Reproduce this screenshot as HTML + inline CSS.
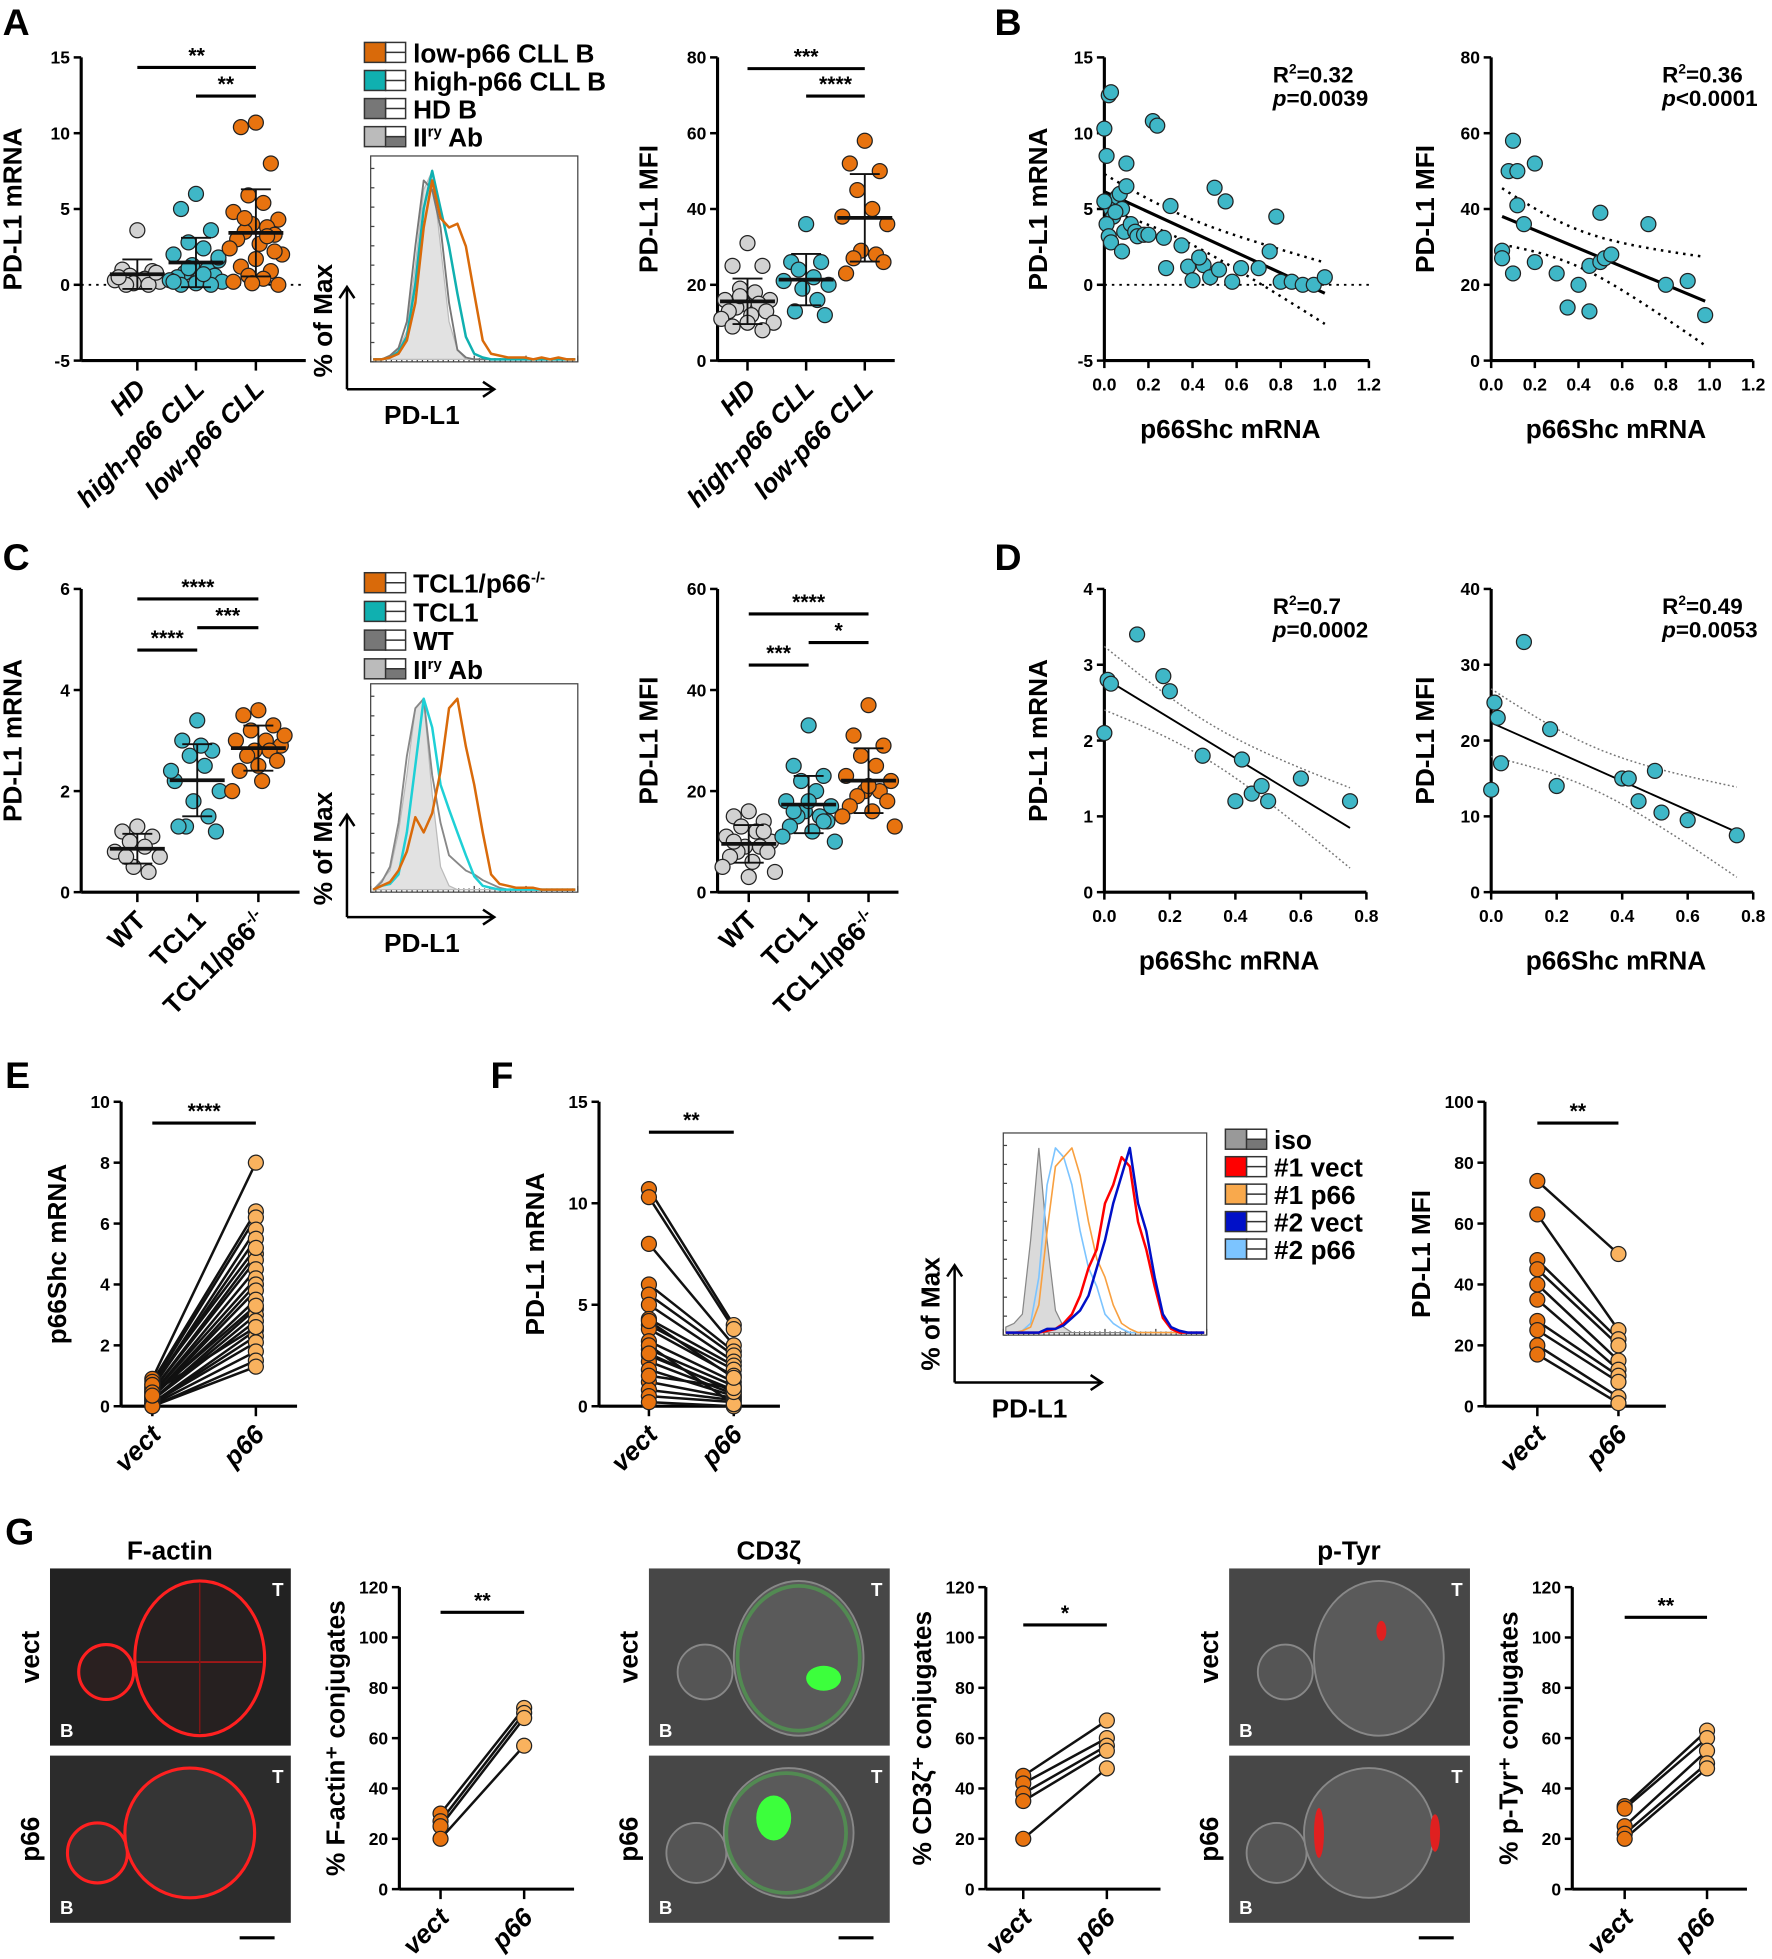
<!DOCTYPE html>
<html><head><meta charset="utf-8">
<style>
html,body{margin:0;padding:0;background:#fff;}
svg{display:block;font-family:"Liberation Sans Narrow","Liberation Sans",sans-serif;}
</style></head>
<body>
<svg id="fig" width="1772" height="1959" viewBox="0 0 1420 1570" xmlns="http://www.w3.org/2000/svg">
<g id="root"></g>
</svg>
<script>
// ---------------- DATA ----------------
const a1Cats=["HD","high-p66 CLL","low-p66 CLL"];
const a1HD=[3.6,1.0,0.9,0.6,0.4,0.3,0.2,0.1,0.0,0.0,0.8,0.5];
const a1High=[6.0,5.0,3.6,2.8,2.4,2.0,1.6,1.3,1.0,0.8,0.6,0.5,0.4,0.3,0.2,0.1,0.0,0.0,1.1,0.7,0.2,1.8];
const a1Low=[10.7,10.4,8.0,5.9,5.4,4.8,4.3,4.0,3.8,3.5,3.3,3.0,2.7,2.4,2.0,1.7,1.2,0.9,0.6,0.4,0.2,0.0,0.1,3.2,4.4,2.2];
const a1Ticks=[-5,0,5,10,15];
const a2HD=[31,25,25,19,18,16,16,15,15,14,13,13,12,11,10,10,9,8,17];
const a2High=[36,26,26,24,22,21,20,19,16,13,12];
const a2Low=[58,52,50,45,40,38,36,29,28,27,26,23];
const a2Ticks=[0,20,40,60,80];
const b1X=[0,0.01,0.02,0.03,0.03,0.04,0.05,0.06,0.07,0.08,0.09,0.1,0.1,0.12,0.14,0.15,0.18,0.2,0.22,0.24,0.27,0.3,0.35,0.38,0.4,0.45,0.48,0.5,0.52,0.55,0.58,0.62,0.7,0.75,0.78,0.8,0.85,0.9,0.95,1.0,0.01,0.02,0.05,0.03,0.0,0.08,0.28,0.43];
const b1Y=[10.3,8.5,12.5,12.7,5,4.5,5.2,5.8,6,5,3.5,6.5,8,4,3.5,3.2,3.3,3.3,10.8,10.5,3.1,5.2,2.6,1.2,0.3,1.3,0.5,6.4,1,5.5,0.2,1.1,1.1,2.2,4.5,0.2,0.2,0,0,0.5,4,3.2,4.8,2.8,5.5,2.2,1.1,1.8];
const b2X=[0.05,0.08,0.1,0.12,0.1,0.15,0.2,0.2,0.3,0.35,0.4,0.45,0.45,0.5,0.5,0.52,0.55,0.72,0.8,0.9,0.98,0.12,0.05];
const b2Y=[29,50,58,50,23,36,52,26,23,14,20,25,13,26,39,27,28,36,20,21,12,41,27];
const bXTicks=[0,0.2,0.4,0.6,0.8,1.0,1.2];
const c1Cats=["WT","TCL1","TCL1/p66"];
const c1WT=[1.3,1.2,1.1,1.0,0.9,0.8,0.7,0.5,0.4,0.7];
const c1TCL=[3.4,3.0,2.8,2.7,2.5,2.2,2.0,1.8,1.5,1.3,1.2,1.3,2.9,2.4];
const c1KO=[3.6,3.5,3.3,3.2,3.0,3.0,2.9,2.8,2.8,2.7,2.6,2.4,2.2,2.0,3.1,2.5];
const c1Ticks=[0,2,4,6];
const c2WT=[16,15,14,13,12,11,10,9,9,8,8,7,6,5,4,3,10,12];
const c2TCL=[33,25,23,22,20,18,17,16,15,15,14,13,12,11,10,18,16,14];
const c2KO=[37,31,29,27,25,23,22,20,20,19,18,17,16,15,13,21];
const c2Ticks=[0,20,40,60];
const d1X=[0.01,0.02,0.0,0.1,0.18,0.2,0.3,0.4,0.42,0.45,0.48,0.5,0.6,0.75];
const d1Y=[2.8,2.75,2.1,3.4,2.85,2.65,1.8,1.2,1.75,1.3,1.4,1.2,1.5,1.2];
const d2X=[0.01,0.02,0.03,0.0,0.1,0.18,0.2,0.4,0.42,0.45,0.5,0.52,0.6,0.75];
const d2Y=[25,23,17,13.5,33,21.5,14,15,15,12,16,10.5,9.5,7.5];
const dXTicks=[0,0.2,0.4,0.6,0.8];
const eVect=[0.9,0.8,0.7,0.6,0.6,0.5,0.5,0.4,0.4,0.3,0.3,0.3,0.2,0.2,0.2,0.1,0.1,0.1,0.05,0,0,0.7,0.45,0.35];
const eP66=[8,6.4,6.2,5.8,5.5,5,4.8,4.5,4.2,4,3.8,3.5,3.2,3,2.8,2.5,2.3,2.1,1.8,1.5,1.3,5.2,2.6,3.3];
const eTicks=[0,2,4,6,8,10];
const f1Vect=[10.7,10.3,8,6,5.5,5,4.3,4,3.8,3.2,2.8,2.5,2.2,1.8,1.2,0.8,0.5,0.2,3,2.6,1.5,4.2];
const f1P66=[4,3.8,3,2.7,2.5,2.2,2,1.8,1.5,1.2,1,0.8,0.6,0.5,0.4,0.3,0.2,0,0.1,0.7,0.9,1.4];
const f1Ticks=[0,5,10,15];
const f2Vect=[74,63,48,45,40,35,28,25,20,17];
const f2P66=[50,25,22,20,15,12,10,8,3,1];
const f2Ticks=[0,20,40,60,80,100];
const g1Vect=[30,27,25,20]; const g1P66=[72,70,68,57];
const g2Vect=[45,42,38,35,20]; const g2P66=[67,60,57,55,48];
const g3Vect=[33,32,25,22,20]; const g3P66=[63,60,55,50,48];
const gTicks=[0,20,40,60,80,100,120];
const pairCats=["vect","p66"];
// histograms (relative counts per bin, left→right)
const hA_iso=[0,0,0.02,0.05,0.15,0.5,0.9,1,0.6,0.2,0.05,0,0,0,0,0,0,0,0,0,0,0,0,0,0];
const hA_hd=[0,0,0.02,0.06,0.2,0.6,0.95,0.9,0.7,0.3,0.05,0.01,0,0,0,0,0,0,0,0,0,0,0,0,0];
const hA_high=[0,0,0.01,0.04,0.12,0.4,0.8,1,0.8,0.6,0.35,0.12,0.03,0.01,0,0,0,0,0,0,0,0,0,0,0];
const hA_low=[0,0,0.01,0.03,0.1,0.3,0.7,0.95,0.75,0.7,0.72,0.6,0.35,0.1,0.03,0.02,0.01,0.01,0.01,0,0.01,0,0.01,0,0];
const hC_iso=[0,0.05,0.1,0.3,0.6,0.95,1,0.5,0.12,0.02,0,0,0,0,0,0,0,0,0,0,0,0,0,0,0];
const hC_wt=[0,0.04,0.12,0.35,0.7,0.95,1,0.6,0.35,0.18,0.14,0.1,0.08,0.05,0.03,0.01,0,0,0,0,0,0,0,0,0];
const hC_tcl=[0,0.02,0.03,0.08,0.3,0.65,1,0.85,0.55,0.42,0.3,0.18,0.07,0.02,0.01,0,0,0,0,0,0,0,0,0,0];
const hC_ko=[0,0.02,0.04,0.1,0.2,0.38,0.3,0.4,0.62,0.95,1,0.75,0.55,0.3,0.08,0.03,0.02,0.01,0.01,0.01,0,0,0,0,0];
const hF_iso=[0.03,0.05,0.1,0.5,1,0.5,0.12,0.03,0,0,0,0,0,0,0,0,0,0,0,0,0,0,0,0,0];
const hF_2p=[0,0,0.01,0.05,0.3,0.8,1,0.95,0.8,0.55,0.35,0.25,0.1,0.05,0.02,0,0,0,0,0,0,0,0,0,0];
const hF_1p=[0,0,0.01,0.03,0.15,0.55,0.9,0.95,1,0.85,0.6,0.4,0.3,0.15,0.05,0.02,0,0,0,0,0,0,0,0,0];
const hF_1v=[0,0,0,0,0,0.01,0.02,0.05,0.1,0.2,0.35,0.45,0.7,0.8,0.95,0.9,0.6,0.45,0.25,0.08,0.02,0,0,0,0];
const hF_2v=[0,0,0,0,0,0.02,0.02,0.04,0.08,0.12,0.2,0.35,0.5,0.7,0.85,1,0.7,0.55,0.3,0.1,0.03,0.01,0,0,0];

// ---------------- HELPERS ----------------
const NS="http://www.w3.org/2000/svg";
const root=document.getElementById('root');
function mk(tag,attrs,parent,txt){const e=document.createElementNS(NS,tag);for(const k in attrs)e.setAttribute(k,attrs[k]);if(txt!==undefined)e.textContent=txt;(parent||root).appendChild(e);return e;}
function grp(name,parent){const g=mk('g',{},parent);


return g;}
function lin(d0,d1,r0,r1){return v=>r0+(v-d0)*(r1-r0)/(d1-d0);}
const OR="#e8730f",CY="#3fb7c7",GR="#d2d2d2",LO="#f9b25e";

function yAxis(g,x0,yS,ticks,title,tx){
  const y0=yS(ticks[0]),y1=yS(ticks[ticks.length-1]);
  const ax=mk('line',{x1:x0,y1:y0,x2:x0,y2:y1,stroke:'#000','stroke-width':2.5},g);
  
  
  ticks.forEach(t=>{mk('line',{x1:x0-6,x2:x0,y1:yS(t),y2:yS(t),stroke:'#000','stroke-width':2},g);
    const tl=mk('text',{x:x0-9,y:yS(t)+5,'text-anchor':'end','font-size':14,'font-weight':'bold'},g,String(t));
    
    });
  const yt=mk('text',{transform:`translate(${tx},${(y0+y1)/2}) rotate(-90)`,'text-anchor':'middle','font-size':21,'font-weight':'bold','font-family':'Liberation Sans'},g,title);
  
  
  return yt;
}
function catAxis(g,x0,x1,yb,xs,labels,italic){
  const ax=mk('line',{x1:x0,x2:x1,y1:yb,y2:yb,stroke:'#000','stroke-width':2.5},g);
  
  
  xs.forEach((x,i)=>{mk('line',{x1:x,x2:x,y1:yb,y2:yb+8,stroke:'#000','stroke-width':2},g);
    const t=mk('text',{transform:`translate(${x+8},${yb+24}) rotate(-45)`,'text-anchor':'end','font-size':21,'font-weight':'bold','font-family':'Liberation Sans','font-style':italic?'italic':'normal'},g,labels[i]);
    
    
    if(labels[i]==="TCL1/p66"){mk('tspan',{dy:-8,'font-size':13},t,'-/-');}
  });
}
function sig(g,xa,xb,y,label){
  mk('line',{x1:xa,x2:xb,y1:y,y2:y,stroke:'#000','stroke-width':2.5},g);
  const t=mk('text',{x:(xa+xb)/2,y:y-4,'text-anchor':'middle','font-size':17,'font-weight':'bold'},g,label);
  
  
}
function dot(g,x,y,c,name){const d=mk('circle',{cx:x,cy:y,r:6,fill:c,stroke:'#222','stroke-width':1},g);
  
  }
const jit=[0,-12,12,-6,6,-18,18,-3,9,-9,15,-15,3,-21,21];
function dotplot(name,o){
  const g=grp(name);
  const yS=lin(o.ticks[0],o.ticks[o.ticks.length-1],o.yb,o.yt);
  yAxis(g,o.x0,yS,o.ticks,o.title,o.x0-48);
  catAxis(g,o.x0,o.x1,o.yb,o.xs,o.cats,o.italic);
  if(o.zero){mk('line',{x1:o.x0,x2:o.x1,y1:yS(0),y2:yS(0),stroke:'#000','stroke-width':1.5,'stroke-dasharray':'2 4'},g);}
  o.groups.forEach((arr,gi)=>{
    arr.forEach((v,i)=>dot(g,o.xs[gi]+jit[i%jit.length]*o.jw,yS(v),o.colors[gi],'data-point'));
    const m=arr.reduce((a,b)=>a+b,0)/arr.length;
    const sd=Math.sqrt(arr.reduce((a,b)=>a+(b-m)*(b-m),0)/(arr.length-1));
    const cx=o.xs[gi];
    mk('line',{x1:cx-22,x2:cx+22,y1:yS(m),y2:yS(m),stroke:'#111','stroke-width':3},g);
    mk('line',{x1:cx,x2:cx,y1:yS(m-sd),y2:yS(m+sd),stroke:'#111','stroke-width':1.5},g);
    mk('line',{x1:cx-12,x2:cx+12,y1:yS(m-sd),y2:yS(m-sd),stroke:'#111','stroke-width':1.5},g);
    mk('line',{x1:cx-12,x2:cx+12,y1:yS(m+sd),y2:yS(m+sd),stroke:'#111','stroke-width':1.5},g);
  });
  o.sigs.forEach(s=>sig(g,o.xs[s[0]],o.xs[s[1]],s[2],s[3]));
}
function scatter(name,o){
  const g=grp(name);
  const yS=lin(o.ticks[0],o.ticks[o.ticks.length-1],o.yb,o.yt);
  const xS=lin(o.xt[0],o.xt[o.xt.length-1],o.x0,o.x1);
  yAxis(g,o.x0,yS,o.ticks,o.title,o.x0-46);
  const ax=mk('line',{x1:o.x0,x2:o.x1,y1:o.yb,y2:o.yb,stroke:'#000','stroke-width':2.5},g);
  
  
  o.xt.forEach(t=>{mk('line',{x1:xS(t),x2:xS(t),y1:o.yb,y2:o.yb+6,stroke:'#000','stroke-width':2},g);
    const tl=mk('text',{x:xS(t),y:o.yb+24,'text-anchor':'middle','font-size':14,'font-weight':'bold'},g,t.toFixed(1));
    
    });
  const xt=mk('text',{x:(o.x0+o.x1)/2-5,y:o.yb+62,'text-anchor':'middle','font-size':21,'font-weight':'bold','font-family':'Liberation Sans'},g,'p66Shc mRNA');
  
  
  if(o.zero)mk('line',{x1:o.x0,x2:o.x1,y1:yS(0),y2:yS(0),stroke:'#000','stroke-width':1.5,'stroke-dasharray':'2 4'},g);
  const n=o.X.length,mx=o.X.reduce((a,b)=>a+b)/n,my=o.Y.reduce((a,b)=>a+b)/n;
  let sxx=0,sxy=0;o.X.forEach((x,i)=>{sxx+=(x-mx)**2;sxy+=(x-mx)*(o.Y[i]-my);});
  const bb=sxy/sxx,aa=my-bb*mx;let sse=0;o.X.forEach((x,i)=>{sse+=(o.Y[i]-aa-bb*x)**2;});
  const se=Math.sqrt(sse/(n-2));
  const xmin=Math.min(...o.X),xmax=Math.max(...o.X);
  let up="",lo="";
  for(let k=0;k<=20;k++){const x=xmin+(xmax-xmin)*k/20;const w=2.05*se*Math.sqrt(1/n+(x-mx)**2/sxx);const f=aa+bb*x;
    up+=(k?"L":"M")+xS(x)+","+yS(f+w);lo+=(k?"L":"M")+xS(x)+","+yS(f-w);}
  mk('path',{d:up,fill:'none',stroke:o.thin?'#777':'#000','stroke-width':o.thin?1.2:2,'stroke-dasharray':o.thin?'1.5 2':'2 4'},g);
  mk('path',{d:lo,fill:'none',stroke:o.thin?'#777':'#000','stroke-width':o.thin?1.2:2,'stroke-dasharray':o.thin?'1.5 2':'2 4'},g);
  const rl=mk('line',{x1:xS(xmin),y1:yS(aa+bb*xmin),x2:xS(xmax),y2:yS(aa+bb*xmax),stroke:'#000','stroke-width':o.thin?1.5:2.5},g);
  
  
  o.X.forEach((x,i)=>dot(g,xS(x),yS(o.Y[i]),CY,'data-point'));
  const r=mk('text',{x:o.lx,y:o.yt+20,'font-size':18,'font-weight':'bold'},g);
  
  
  mk('tspan',{},r,'R');mk('tspan',{dy:-7,'font-size':11},r,'2');mk('tspan',{dy:7},r,'='+o.r2);
  const p=mk('text',{x:o.lx,y:o.yt+39,'font-size':18,'font-weight':'bold'},g);
  
  
  mk('tspan',{'font-style':'italic'},p,'p');mk('tspan',{},p,o.pv);
}
function paired(name,o){
  const g=grp(name);
  const yS=lin(o.ticks[0],o.ticks[o.ticks.length-1],o.yb,o.yt);
  yAxis(g,o.x0,yS,o.ticks,o.title,o.x0-44);
  catAxis(g,o.x0,o.x1,o.yb,o.xs,pairCats,true);
  o.a.forEach((v,i)=>{const l=mk('line',{x1:o.xs[0],y1:yS(v),x2:o.xs[1],y2:yS(o.b[i]),stroke:'#111','stroke-width':2},g);
    
    });
  o.a.forEach(v=>dot(g,o.xs[0],yS(v),OR,'data-point-vect'));
  o.b.forEach(v=>dot(g,o.xs[1],yS(v),LO,'data-point-p66'));
  sig(g,o.xs[0],o.xs[1],yS(o.sy),o.sl);
  return yS;
}
function hist(name,o){
  const g=grp(name);
  const bx=mk('rect',{x:o.x,y:o.y,width:o.w,height:o.h,fill:'#fff',stroke:'#444','stroke-width':1},g);
  
  
  for(let i=0;i<=10;i++){mk('line',{x1:o.x,x2:o.x+3,y1:o.y+o.h-i*(o.h-10)/10,y2:o.y+o.h-i*(o.h-10)/10,stroke:'#444','stroke-width':1},g);}
  for(let i=0;i<=40;i++){mk('line',{x1:o.x+i*o.w/40,x2:o.x+i*o.w/40,y1:o.y+o.h,y2:o.y+o.h-(i%10==0?5:3),stroke:'#444','stroke-width':1},g);}
  o.series.forEach(s=>{
    const n=s.v.length;let d="";
    s.v.forEach((v,i)=>{const x=o.x+2+i*(o.w-4)/(n-1),y=o.y+o.h-2-v*(o.h-14);d+=(i?"L":"M")+x.toFixed(1)+","+y.toFixed(1);});
    if(s.fill){mk('path',{d:d+`L${o.x+o.w-2},${o.y+o.h-2}L${o.x+2},${o.y+o.h-2}Z`,fill:s.fill,stroke:s.c,'stroke-width':1},g);}
    else{const p=mk('path',{d:d,fill:'none',stroke:s.c,'stroke-width':s.sw||2,'stroke-linejoin':'round'},g);
      
      }
  });
  mk('line',{x1:o.ax,y1:o.ay,x2:o.ax,y2:o.ay-o.al,stroke:'#000','stroke-width':2},g);
  mk('path',{d:`M${o.ax-6},${o.ay-o.al+9}L${o.ax},${o.ay-o.al}L${o.ax+6},${o.ay-o.al+9}`,fill:'none',stroke:'#000','stroke-width':2},g);
  mk('line',{x1:o.ax,y1:o.ay,x2:o.ax+o.hl,y2:o.ay,stroke:'#000','stroke-width':2},g);
  mk('path',{d:`M${o.ax+o.hl-9},${o.ay-6}L${o.ax+o.hl},${o.ay}L${o.ax+o.hl-9},${o.ay+6}`,fill:'none',stroke:'#000','stroke-width':2},g);
  const t1=mk('text',{transform:`translate(${o.ax-12},${o.ay-55}) rotate(-90)`,'text-anchor':'middle','font-size':21,'font-weight':'bold','font-family':'Liberation Sans'},g,'% of Max');
  
  
  const t2=mk('text',{x:o.ax+60,y:o.ay+28,'text-anchor':'middle','font-size':21,'font-weight':'bold','font-family':'Liberation Sans'},g,'PD-L1');
  
  
  o.leg.forEach((l,i)=>{const y=o.ly+i*o.ls;
    const lg=grp('legend-entry',g);
    mk('rect',{x:o.lx,y:y-13,width:17,height:16,fill:l[1],stroke:'#333','stroke-width':1.2},lg);
    mk('rect',{x:o.lx+17,y:y-13,width:16,height:16,fill:'#fff',stroke:'#333','stroke-width':1.2},lg);
    if(l[2])mk('rect',{x:o.lx+17,y:y-5,width:16,height:8,fill:l[2],stroke:'#333','stroke-width':1},lg);
    mk('line',{x1:o.lx+17,x2:o.lx+33,y1:y-5,y2:y-5,stroke:'#333','stroke-width':1.2},lg);
    const t=mk('text',{x:o.lx+39,y:y+3,'font-size':21,'font-weight':'bold','font-family':'Liberation Sans'},lg,l[0]);
    if(l[3])mk('tspan',{dy:-8,'font-size':12},t,l[3]);
    if(l[4]){mk('tspan',{dy:8},t,l[4]);}
  });
}
function letter(ch,x,y){const t=mk('text',{x:x,y:y,'font-size':30,'font-weight':'bold','font-family':'Liberation Sans'},root,ch);
  
  }

// ---------------- PANELS ----------------
letter('A',2,28);letter('B',797,28);letter('C',2,457);letter('D',797,457);letter('E',4,872);letter('F',393,872);letter('G',4,1238);

dotplot('panel-a-pdl1-mrna',{x0:65,x1:245,yt:46,yb:289,ticks:a1Ticks,xs:[110,157,205],cats:a1Cats,italic:true,groups:[a1HD,a1High,a1Low],colors:[GR,CY,OR],title:'PD-L1 mRNA',zero:true,jw:1,
  sigs:[[0,2,54,'**'],[1,2,77,'**']]});
hist('panel-a-histogram',{x:297,y:125,w:166,h:165,ax:278,ay:312,al:82,hl:118,lx:292,ly:47,ls:22.5,
  series:[{v:hA_iso,c:'#bbb',fill:'#e2e2e2'},{v:hA_hd,c:'#777',sw:1.5},{v:hA_high,c:'#10b0b0'},{v:hA_low,c:'#d96a0a'}],
  leg:[['low-p66 CLL B','#d96a0a'],['high-p66 CLL B','#10b0b0'],['HD B','#777'],['II','#bbb','#777','ry',' Ab']]});
dotplot('panel-a-pdl1-mfi',{x0:575,x1:717,yt:46,yb:289,ticks:a2Ticks,xs:[599,646,693],cats:a1Cats,italic:true,groups:[a2HD,a2High,a2Low],colors:[GR,CY,OR],title:'PD-L1 MFI',jw:1,
  sigs:[[0,2,55,'***'],[1,2,77,'****']]});
scatter('panel-b-mrna-scatter',{x0:885,x1:1097,yt:46,yb:289,ticks:a1Ticks,xt:bXTicks,X:b1X,Y:b1Y,title:'PD-L1 mRNA',zero:true,lx:1020,r2:'0.32',pv:'=0.0039'});
scatter('panel-b-mfi-scatter',{x0:1195,x1:1405,yt:46,yb:289,ticks:a2Ticks,xt:bXTicks,X:b2X,Y:b2Y,title:'PD-L1 MFI',lx:1332,r2:'0.36',pv:'<0.0001'});

dotplot('panel-c-pdl1-mrna',{x0:65,x1:240,yt:472,yb:715,ticks:c1Ticks,xs:[110,158,207],cats:c1Cats,groups:[c1WT,c1TCL,c1KO],colors:[GR,CY,OR],title:'PD-L1 mRNA',jw:1,
  sigs:[[0,2,480,'****'],[1,2,503,'***'],[0,1,521,'****']]});
hist('panel-c-histogram',{x:297,y:548,w:166,h:167,ax:278,ay:735,al:82,hl:118,lx:292,ly:472,ls:23,
  series:[{v:hC_iso,c:'#bbb',fill:'#e2e2e2'},{v:hC_wt,c:'#888',sw:1.5},{v:hC_tcl,c:'#1ed0d6'},{v:hC_ko,c:'#d96a0a'}],
  leg:[['TCL1/p66','#d96a0a',null,'-/-'],['TCL1','#10b0b0'],['WT','#777'],['II','#bbb','#777','ry',' Ab']]});
dotplot('panel-c-pdl1-mfi',{x0:575,x1:720,yt:472,yb:715,ticks:c2Ticks,xs:[600,648,696],cats:c1Cats,groups:[c2WT,c2TCL,c2KO],colors:[GR,CY,OR],title:'PD-L1 MFI',jw:1,
  sigs:[[0,2,492,'****'],[1,2,515,'*'],[0,1,533,'***']]});
scatter('panel-d-mrna-scatter',{x0:885,x1:1095,yt:472,yb:715,ticks:[0,1,2,3,4],xt:dXTicks,X:d1X,Y:d1Y,title:'PD-L1 mRNA',thin:true,lx:1020,r2:'0.7',pv:'=0.0002'});
scatter('panel-d-mfi-scatter',{x0:1195,x1:1405,yt:472,yb:715,ticks:[0,10,20,30,40],xt:dXTicks,X:d2X,Y:d2Y,title:'PD-L1 MFI',thin:true,lx:1332,r2:'0.49',pv:'=0.0053'});

paired('panel-e-p66shc-mrna',{x0:97,x1:238,yt:883,yb:1127,ticks:eTicks,xs:[122,205],a:eVect,b:eP66,title:'p66Shc mRNA',sy:9.3,sl:'****'});
paired('panel-f-pdl1-mrna',{x0:480,x1:625,yt:883,yb:1127,ticks:f1Ticks,xs:[520,588],a:f1Vect,b:f1P66,title:'PD-L1 mRNA',sy:13.5,sl:'**'});
hist('panel-f-histogram',{x:804,y:908,w:163,h:162,ax:765,ay:1108,al:94,hl:118,lx:982,ly:918,ls:22,
  series:[{v:hF_iso,c:'#888',fill:'#dadada'},{v:hF_2p,c:'#7cc4ff',sw:1.3},{v:hF_1p,c:'#f8a040',sw:1.3},{v:hF_1v,c:'#ff0000',sw:2},{v:hF_2v,c:'#0010c8',sw:2}],
  leg:[['iso','#999','#777'],['#1 vect','#ff0000'],['#1 p66','#f9a94c'],['#2 vect','#0010c8'],['#2 p66','#7cc4ff']]});
paired('panel-f-pdl1-mfi',{x0:1190,x1:1335,yt:883,yb:1127,ticks:f2Ticks,xs:[1232,1297],a:f2Vect,b:f2P66,title:'PD-L1 MFI',sy:93,sl:'**'});

paired('panel-g-factin-chart',{x0:320,x1:460,yt:1272,yb:1514,ticks:gTicks,xs:[353,420],a:g1Vect,b:g1P66,title:'% F-actin⁺ conjugates',sy:110,sl:'**'});
paired('panel-g-cd3z-chart',{x0:790,x1:930,yt:1272,yb:1514,ticks:gTicks,xs:[820,887],a:g2Vect,b:g2P66,title:'% CD3ζ⁺ conjugates',sy:105,sl:'*'});
paired('panel-g-ptyr-chart',{x0:1260,x1:1400,yt:1272,yb:1514,ticks:gTicks,xs:[1302,1368],a:g3Vect,b:g3P66,title:'% p-Tyr⁺ conjugates',sy:108,sl:'**'});

// microscopy images
function micro(name,x,title,kind){
  const g=grp(name);
  const tt=mk('text',{x:x+96,y:1250,'text-anchor':'middle','font-size':21,'font-weight':'bold','font-family':'Liberation Sans'},g,title);
  
  
  [[1257,'vect'],[1407,'p66']].forEach((r,ri)=>{
    const y=r[0],h=ri?134:142,w=193;
    const bg=kind==='f'?(ri?'#2c2c2c':'#222'):'#474747';
    const im=mk('rect',{x:x,y:y,width:w,height:h,fill:bg},g);
    
    
    const rl=mk('text',{transform:`translate(${x-9},${y+h/2}) rotate(-90)`,'text-anchor':'middle','font-size':21,'font-weight':'bold','font-family':'Liberation Sans'},g,r[1]);
    
    
    const cc='#ff2020';
    const cw=kind==='f'?2.5:1.5;
    const mem=kind==='f'?cc:'#888';
    if(ri===0){
      mk('circle',{cx:x+45,cy:y+83,r:22,fill:kind==='f'?'#2a2020':'#555',stroke:mem,'stroke-width':cw},g);
      mk('ellipse',{cx:x+120,cy:y+72,rx:52,ry:62,fill:kind==='f'?'#262020':'#5a5a5a',stroke:mem,'stroke-width':cw},g);
    } else {
      mk('circle',{cx:x+38,cy:y+78,r:24,fill:kind==='f'?'#333':'#555',stroke:mem,'stroke-width':cw},g);
      mk('ellipse',{cx:x+112,cy:y+62,rx:52,ry:52,fill:kind==='f'?'#353535':'#5a5a5a',stroke:mem,'stroke-width':cw},g);
    }
    if(kind==='c'){
      mk('ellipse',{cx:x+(ri?110:120),cy:y+(ri?62:72),rx:(ri?48:49),ry:(ri?48:58),fill:'none',stroke:'#4caa4c','stroke-width':3,opacity:0.6},g);
      mk('ellipse',{cx:x+(ri?100:140),cy:y+(ri?50:88),rx:14,ry:(ri?18:10),fill:'#3cff3c'},g);
    }
    if(kind==='p'){
      mk('ellipse',{cx:x+(ri?72:122),cy:y+(ri?62:50),rx:4,ry:(ri?20:8),fill:'#e02020'},g);
      if(ri)mk('ellipse',{cx:x+165,cy:y+62,rx:4,ry:15,fill:'#e02020'},g);
    }
    if(kind==='f'&&ri===0){mk('line',{x1:x+70,x2:x+170,y1:y+75,y2:y+75,stroke:'#a01818','stroke-width':1.5},g);
      mk('line',{x1:x+120,x2:x+120,y1:y+12,y2:y+132,stroke:'#801414','stroke-width':1.2},g);}
    mk('text',{x:x+w-15,y:y+22,'font-size':15,'font-weight':'bold',fill:'#fff'},g,'T');
    mk('text',{x:x+8,y:y+h-7,'font-size':15,'font-weight':'bold',fill:'#fff'},g,'B');
  });
  mk('line',{x1:x+152,x2:x+180,y1:1553,y2:1553,stroke:'#000','stroke-width':2.5},g);
}
micro('panel-g-factin-images',40,'F-actin','f');
micro('panel-g-cd3z-images',520,'CD3ζ','c');
micro('panel-g-ptyr-images',985,'p-Tyr','p');
</script>
</body></html>
